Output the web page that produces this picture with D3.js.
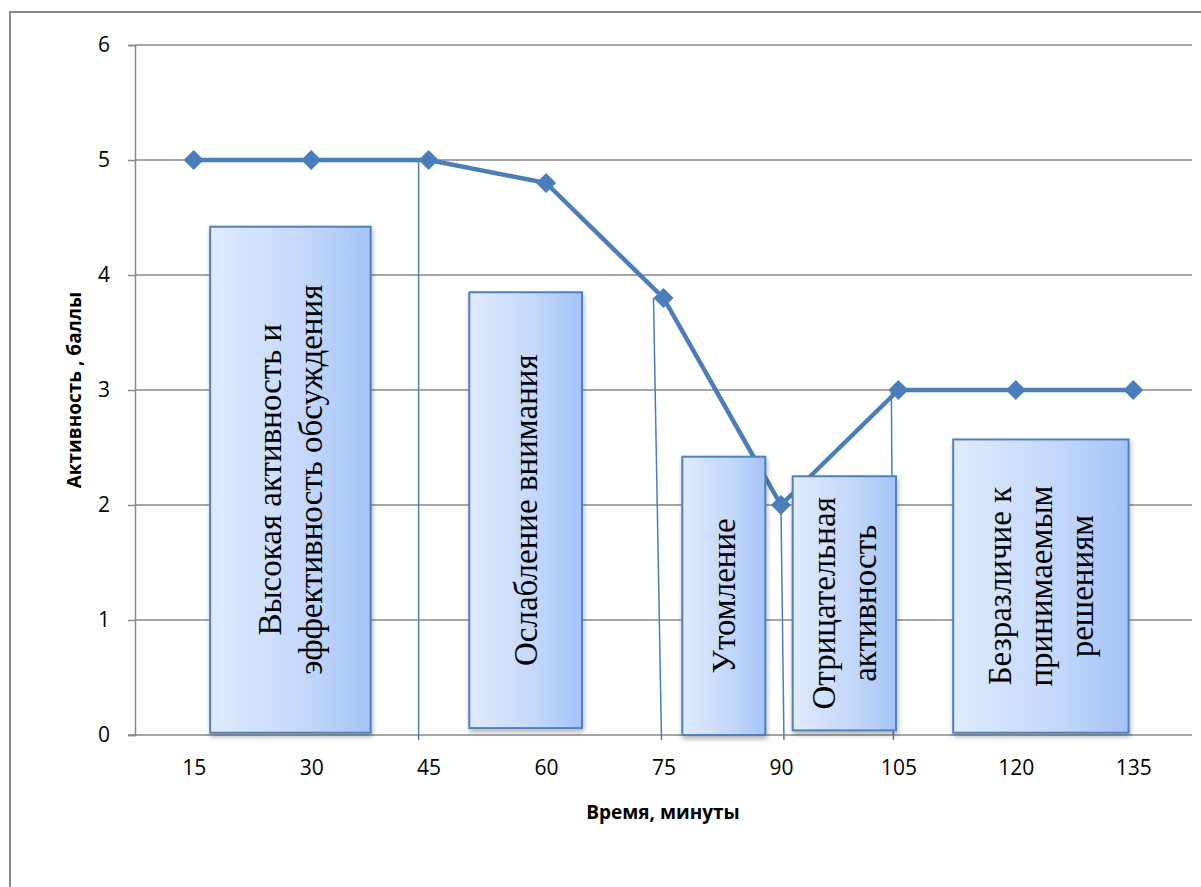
<!DOCTYPE html>
<html>
<head>
<meta charset="utf-8">
<script src="https://cdn.jsdelivr.net/npm/d3@7"></script>
<style>
  body { margin: 0; background: #fff; }
  svg { display: block; }
</style>
</head>
<body>
<svg width="1201" height="887"></svg>
<script>
// chart data
var categories = [15, 30, 45, 60, 75, 90, 105, 120, 135],
    values = [5, 5, 5, 4.8, 3.8, 2, 3, 3, 3],
    yTicks = [0, 1, 2, 3, 4, 5, 6];

// phase call-outs (minutes / points)
var phaseLabels = [
      ["Высокая активность и", "эффективность обсуждения"],
      ["Ослабление внимания"],
      ["Утомление"],
      ["Отрицательная", "активность"],
      ["Безразличие к", "принимаемым", "решениям"]
    ],
    phaseStart = [17.1, 50.2, 77.4, 91.5, 112],
    phaseEnd = [37.6, 64.6, 88, 104.7, 134.4],
    phaseTop = [4.42, 3.85, 2.42, 2.25, 2.57],
    phaseBottom = [0.02, 0.06, 0, 0.04, 0.02];

// leader lines drop from these points
var leaderCats = [45, 75, 90, 105];

var svg = d3.select("svg"),
    plotLeft = 135, plotRight = 1192, plotTop = 45, plotBottom = 735,
    blue = "#4a7ebb", grid = "#888";

var x = d3.scalePoint()
    .domain(categories)
    .range([plotLeft, plotRight])
    .padding(0.5);

var minutes = d3.scaleLinear()
    .domain([15, 135])
    .range([x(15), x(135)]);

var y = d3.scaleLinear()
    .domain([0, 6])
    .range([plotBottom, plotTop]);

var defs = svg.append("defs");
var grad = defs.append("linearGradient").attr("id", "boxfill");
grad.append("stop").attr("offset", "0%").attr("stop-color", "#e0ebfd");
grad.append("stop").attr("offset", "60%").attr("stop-color", "#c3d7fa");
grad.append("stop").attr("offset", "100%").attr("stop-color", "#a5c3f8");
defs.append("filter").attr("id", "shadow")
    .attr("x", "-10%").attr("y", "-10%").attr("width", "130%").attr("height", "130%")
  .append("feDropShadow")
    .attr("dx", 1).attr("dy", 3).attr("stdDeviation", 2.5)
    .attr("flood-color", "#000").attr("flood-opacity", 0.3);

// outer frame
svg.append("rect")
    .attr("x", 10).attr("y", 12)
    .attr("width", 1220).attr("height", 920)
    .attr("fill", "none")
    .attr("stroke", grid)
    .attr("stroke-width", 2);

// gridlines + y axis
var yAxis = svg.append("g")
    .attr("transform", "translate(" + plotLeft + ",0)")
    .call(d3.axisLeft(y).tickValues(yTicks).tickSize(7).tickPadding(18).tickFormat(d3.format("d")));
yAxis.select(".domain").attr("stroke", grid).attr("stroke-width", 1.5);
yAxis.selectAll(".tick line").attr("stroke", grid).attr("stroke-width", 1.5);
yAxis.selectAll(".tick text")
    .attr("font-family", "'Open Sans', sans-serif")
    .attr("font-size", 21)
    .attr("fill", "#000");

svg.append("g")
  .selectAll("line")
  .data(yTicks.filter(function(d) { return d > 0; }))
  .enter().append("line")
    .attr("x1", plotLeft).attr("x2", plotRight)
    .attr("y1", function(d) { return y(d); })
    .attr("y2", function(d) { return y(d); })
    .attr("stroke", grid)
    .attr("stroke-width", 1.5);

// x axis
var xAxis = svg.append("g")
    .attr("transform", "translate(0," + plotBottom + ")")
    .call(d3.axisBottom(x).tickSize(0).tickPadding(25));
xAxis.select(".domain").attr("d", "M128,0H" + plotRight).attr("stroke", grid).attr("stroke-width", 1.5);
xAxis.selectAll(".tick text")
    .attr("font-family", "'Open Sans', sans-serif")
    .attr("font-size", 21)
    .attr("fill", "#000");

// axis titles
svg.append("text")
    .attr("x", 663).attr("y", 819)
    .attr("text-anchor", "middle")
    .attr("font-family", "'Open Sans', sans-serif")
    .attr("font-weight", "bold")
    .attr("font-size", 19)
    .text("Время, минуты");

svg.append("text")
    .attr("transform", "translate(81,390) rotate(-90)")
    .attr("text-anchor", "middle")
    .attr("font-family", "'Open Sans', sans-serif")
    .attr("font-weight", "bold")
    .attr("font-size", 19)
    .text("Активность , баллы");

// leader lines
var topShift = [-10, -10, 0, -7],
    bottomShift = [-10, -2, 3, -5];
svg.append("g")
  .selectAll("line")
  .data(leaderCats)
  .enter().append("line")
    .attr("x1", function(d, i) { return x(d) + topShift[i]; })
    .attr("y1", function(d) { return y(values[categories.indexOf(d)]); })
    .attr("x2", function(d, i) { return x(d) + bottomShift[i]; })
    .attr("y2", plotBottom + 5)
    .attr("stroke", blue)
    .attr("stroke-width", 1.5);

// activity line
var line = d3.line()
    .x(function(d, i) { return x(categories[i]); })
    .y(function(d) { return y(d); });

svg.append("path")
    .datum(values)
    .attr("d", line)
    .attr("fill", "none")
    .attr("stroke", blue)
    .attr("stroke-width", 4.5)
    .attr("stroke-linejoin", "round");

svg.append("g")
  .selectAll("path")
  .data(values)
  .enter().append("path")
    .attr("d", d3.symbol().type(d3.symbolSquare).size(200))
    .attr("transform", function(d, i) {
      return "translate(" + x(categories[i]) + "," + y(d) + ") rotate(45)";
    })
    .attr("fill", blue);

// phase boxes
var box = svg.append("g")
  .selectAll("g")
  .data(phaseLabels)
  .enter().append("g");

box.append("rect")
    .attr("x", function(d, i) { return minutes(phaseStart[i]); })
    .attr("y", function(d, i) { return y(phaseTop[i]); })
    .attr("width", function(d, i) { return minutes(phaseEnd[i]) - minutes(phaseStart[i]); })
    .attr("height", function(d, i) { return y(phaseBottom[i]) - y(phaseTop[i]); })
    .attr("fill", "url(#boxfill)")
    .attr("stroke", "#4f81bd")
    .attr("stroke-width", 2)
    .attr("filter", "url(#shadow)");

box.append("text")
    .attr("transform", function(d, i) {
      var cx = (minutes(phaseStart[i]) + minutes(phaseEnd[i])) / 2,
          cy = (y(phaseTop[i]) + y(phaseBottom[i])) / 2;
      return "translate(" + cx + "," + cy + ") rotate(-90)";
    })
    .attr("text-anchor", "middle")
    .attr("font-family", "'Liberation Serif', 'Times New Roman', serif")
    .attr("font-size", 33)
    .attr("fill", "#000")
  .selectAll("tspan")
  .data(function(d) { return d; })
  .enter().append("tspan")
    .attr("x", 0)
    .attr("y", function(d, i, nodes) { return (i - (nodes.length - 1) / 2) * 41 + 11; })
    .text(function(d) { return d; });
</script>
</body>
</html>
